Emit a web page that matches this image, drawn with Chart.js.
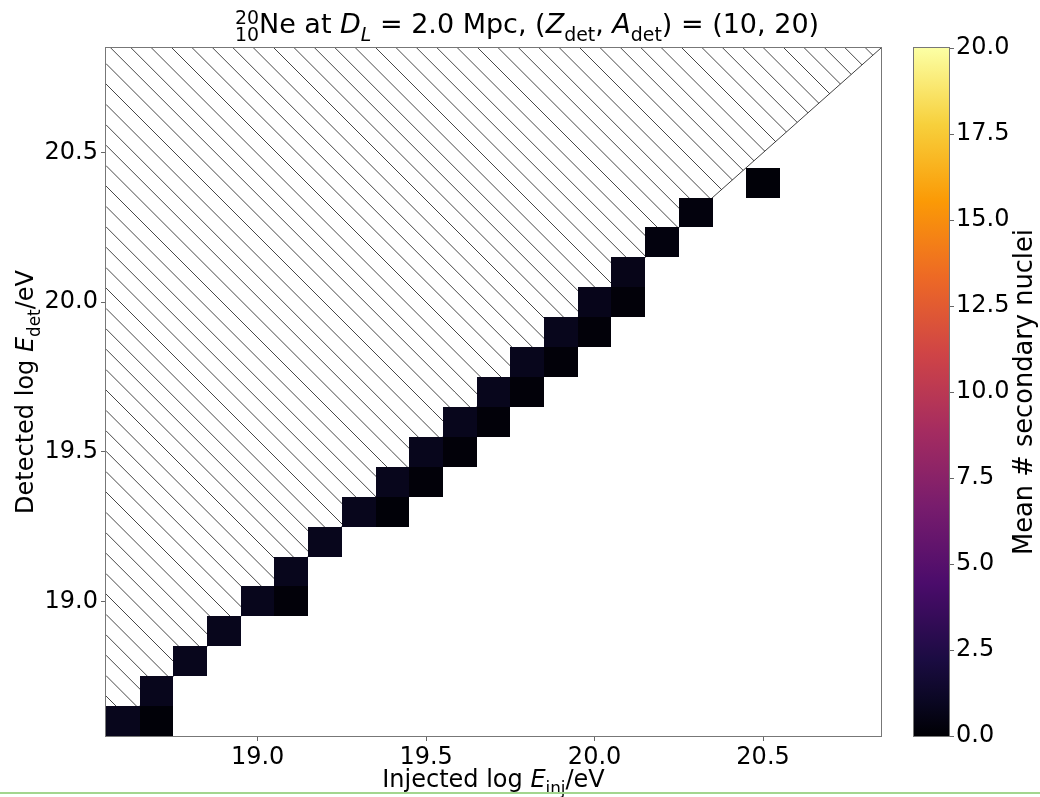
<!DOCTYPE html>
<html><head><meta charset="utf-8">
<script src="https://cdn.jsdelivr.net/npm/chart.js@4.4.1/dist/chart.umd.min.js"></script>
<style>
html,body{margin:0;padding:0;background:#fff;}
#wrap{position:relative;width:1040px;height:797px;overflow:hidden;background:#fff;}
#wrap canvas{position:absolute;left:0;top:0;}
#gl{position:absolute;left:0;top:792px;width:1040px;height:2px;background:#a3d68f;}
</style></head><body>
<div id="wrap">
<canvas id="main" width="1040" height="797" style="width:1040px;height:797px"></canvas>
<canvas id="cbar" width="1040" height="797" style="width:1040px;height:797px"></canvas>
<div id="gl"></div>
</div>
<script>
// ---- data ----
const binCenters = [18.6,18.7,18.8,18.9,19.0,19.1,19.2,19.3,19.4,19.5,19.6,19.7,19.8,19.9,20.0,20.1,20.2,20.3,20.4,20.5,20.6,20.7,20.8];
const injectedLogE = [18.6,18.7,18.8,18.9,19.0,19.1,19.2,19.3,19.4,19.5,19.6,19.7,19.8,19.9,20.0,20.1,20.2,20.3,
                      18.7,19.1,19.4,19.5,19.6,19.7,19.8,19.9,20.0,20.1,20.5];
const detectedLogE = [18.6,18.7,18.8,18.9,19.0,19.1,19.2,19.3,19.4,19.5,19.6,19.7,19.8,19.9,20.0,20.1,20.2,20.3,
                      18.6,19.0,19.3,19.4,19.5,19.6,19.7,19.8,19.9,20.0,20.4];
const meanSecondaries = [0.8,0.8,0.8,0.8,0.8,0.8,0.8,0.8,0.8,0.8,0.8,0.8,0.8,0.8,0.75,0.65,0.35,0.3,
                         0.12,0.15,0.12,0.15,0.15,0.15,0.15,0.15,0.15,0.15,0.12];
const xTickValues = [19.0,19.5,20.0,20.5];
const yTickValues = [19.0,19.5,20.0,20.5];
const colorbarTicks = [0,2.5,5,7.5,10,12.5,15,17.5,20];
const colorMin = 0, colorMax = 20;

// inferno colormap anchors
const infernoStops = [[0,'#000004'],[0.05,'#0a0722'],[1/9,'#1b0c42'],[2/9,'#4b0c6b'],[3/9,'#781c6d'],[4/9,'#a52c60'],[5/9,'#cf4446'],[6/9,'#ed6925'],[7/9,'#fb9a06'],[8/9,'#f7d03c'],[1,'#fcffa4']];
function hex2rgb(h){return [parseInt(h.substr(1,2),16),parseInt(h.substr(3,2),16),parseInt(h.substr(5,2),16)];}
function inferno(t){
  t=Math.max(0,Math.min(1,t));
  for(let i=1;i<infernoStops.length;i++){
    const [t1,c1]=infernoStops[i], [t0,c0]=infernoStops[i-1];
    if(t<=t1){const f=(t-t0)/(t1-t0);const a=hex2rgb(c0),b=hex2rgb(c1);
      return 'rgb('+a.map((v,k)=>Math.round(v+(b[k]-v)*f)).join(',')+')';}
  }
  return infernoStops[infernoStops.length-1][1];
}

Chart.defaults.font.family = "'DejaVu Sans', sans-serif";
Chart.defaults.color = '#000';
const FONT = '"DejaVu Sans"';

function fontFor(s,size){const sz=(s.sub||s.sup)?size*0.7:size;return (s.it?'italic ':'')+sz+'px '+FONT;}
function richWidth(ctx,segs,size){let w=0;for(const s of segs){ctx.font=fontFor(s,size);if(!s.stack)w+=ctx.measureText(s.t).width;}return w;}
function drawRich(ctx,segs,x,y,size){
  ctx.textAlign='left';
  for(const s of segs){ctx.font=fontFor(s,size);
    const dy=s.sub?size*0.3:(s.sup?-size*0.33:0);
    ctx.fillText(s.t,x,y+dy);
    if(!s.stack)x+=ctx.measureText(s.t).width;}
}
function drawRichCentered(ctx,segs,cx,y,size){const w=richWidth(ctx,segs,size);drawRich(ctx,segs,cx-w/2,y,size);}

const titleSegs=[{t:'20',sup:true,stack:true},{t:'10',sub:true},{t:'Ne at '},{t:'D',it:true},{t:'L',it:true,sub:true},
  {t:' = 2.0 Mpc, ('},{t:'Z',it:true},{t:'det',sub:true},{t:', '},{t:'A',it:true},{t:'det',sub:true},{t:') = (10, 20)'}];
const xLabelSegs=[{t:'Injected log '},{t:'E',it:true},{t:'inj',sub:true},{t:'/eV'}];
const yLabelSegs=[{t:'Detected log '},{t:'E',it:true},{t:'det',sub:true},{t:'/eV'}];

const halfBin=(binCenters[1]-binCenters[0])/2;
const lo=binCenters[0]-halfBin, hi=binCenters[binCenters.length-1]+halfBin;

const heatPlugin={
  id:'heat',
  beforeDatasetsDraw(chart){
    const {ctx,chartArea:a,scales:{x,y}}=chart;
    // hatched region (detected > injected)
    ctx.save();
    ctx.beginPath();
    ctx.moveTo(x.getPixelForValue(lo),y.getPixelForValue(lo));
    ctx.lineTo(x.getPixelForValue(hi),y.getPixelForValue(hi));
    ctx.lineTo(x.getPixelForValue(lo),y.getPixelForValue(hi));
    ctx.closePath();
    ctx.clip();
    ctx.strokeStyle='rgba(0,0,0,0.72)';ctx.lineWidth=1;
    ctx.beginPath();
    const sp=20.4, c0=-42.4;
    for(let k=-80;k<=80;k++){const c=c0+k*sp;
      if(c<a.top-a.right-2||c>a.bottom-a.left+2)continue;
      ctx.moveTo(a.left,a.left+c);ctx.lineTo(a.right,a.right+c);}
    ctx.stroke();
    ctx.restore();
    ctx.save();
    ctx.strokeStyle='rgba(0,0,0,0.75)';ctx.lineWidth=1;
    ctx.beginPath();
    ctx.moveTo(x.getPixelForValue(lo),y.getPixelForValue(lo));
    ctx.lineTo(x.getPixelForValue(hi),y.getPixelForValue(hi));
    ctx.stroke();
    ctx.restore();
    // cells
    const ds=chart.data.datasets[0].data;
    ctx.save();
    for(const p of ds){
      const x0=Math.round(x.getPixelForValue(p.x-halfBin)),x1=Math.round(x.getPixelForValue(p.x+halfBin));
      const y0=Math.round(y.getPixelForValue(p.y+halfBin)),y1=Math.round(y.getPixelForValue(p.y-halfBin));
      ctx.fillStyle=inferno((p.v-colorMin)/(colorMax-colorMin));
      ctx.fillRect(x0,y0,x1-x0,y1-y0);
    }
    ctx.restore();
  },
  afterDraw(chart){
    const {ctx,chartArea:a}=chart;
    ctx.save();
    ctx.strokeStyle='#777';ctx.lineWidth=1;
    ctx.strokeRect(Math.round(a.left)-0.5,Math.round(a.top)-0.5,Math.round(a.right-a.left)+1,Math.round(a.bottom-a.top)+1);
    ctx.fillStyle='#000';ctx.textBaseline='alphabetic';
    drawRichCentered(ctx,titleSegs,527,33,27);
    drawRichCentered(ctx,xLabelSegs,(a.left+a.right)/2,787,24);
    ctx.translate(33,(a.top+a.bottom)/2);ctx.rotate(-Math.PI/2);
    drawRichCentered(ctx,yLabelSegs,0,0,24);
    ctx.restore();
  }
};

const tickFont={size:24,family:"'DejaVu Sans'"};
new Chart(document.getElementById('main'),{
  type:'scatter',
  data:{datasets:[{data:injectedLogE.map((v,i)=>({x:v,y:detectedLogE[i],v:meanSecondaries[i]})),pointRadius:0,pointHoverRadius:0}]},
  options:{
    responsive:false,animation:false,events:[],devicePixelRatio:1,
    layout:{padding:{left:0,top:48,right:159,bottom:0}},
    plugins:{legend:{display:false},tooltip:{enabled:false},title:{display:false}},
    scales:{
      x:{type:'linear',min:lo,max:hi,
        afterBuildTicks:s=>{s.ticks=xTickValues.map(v=>({value:v}));},
        afterFit:s=>{s.height=61;},
        ticks:{font:tickFont,color:'#000',padding:2,maxRotation:0,autoSkip:false,callback:v=>Number(v).toFixed(1)},
        grid:{drawOnChartArea:false,drawTicks:true,tickLength:5,color:'#666'},
        border:{display:false}},
      y:{type:'linear',min:lo,max:hi,
        afterBuildTicks:s=>{s.ticks=yTickValues.map(v=>({value:v}));},
        afterFit:s=>{s.width=106;},
        ticks:{font:tickFont,color:'#000',padding:3,autoSkip:false,callback:v=>Number(v).toFixed(1)},
        grid:{drawOnChartArea:false,drawTicks:true,tickLength:5,color:'#666'},
        border:{display:false}}
    }
  },
  plugins:[heatPlugin]
});

const cbPlugin={
  id:'cb',
  beforeDraw(chart){
    const {ctx,chartArea:a,scales:{y}}=chart;
    const g=ctx.createLinearGradient(0,y.getPixelForValue(colorMin),0,y.getPixelForValue(colorMax));
    for(const [t,c] of infernoStops)g.addColorStop(t,c);
    ctx.save();ctx.fillStyle=g;ctx.fillRect(a.left,a.top,a.right-a.left,a.bottom-a.top);ctx.restore();
  },
  afterDraw(chart){
    const {ctx,chartArea:a}=chart;
    ctx.save();ctx.strokeStyle='#777';ctx.lineWidth=1;
    ctx.strokeRect(Math.round(a.left)-0.5,Math.round(a.top)-0.5,Math.round(a.right-a.left)+1,Math.round(a.bottom-a.top)+1);
    ctx.fillStyle='#000';ctx.textBaseline='alphabetic';ctx.textAlign='center';
    ctx.font='25.7px '+FONT;
    ctx.translate(1032,(a.top+a.bottom)/2);ctx.rotate(-Math.PI/2);
    ctx.fillText('Mean # secondary nuclei',0,0);
    ctx.restore();
  }
};
new Chart(document.getElementById('cbar'),{
  type:'scatter',
  data:{datasets:[]},
  options:{
    responsive:false,animation:false,events:[],devicePixelRatio:1,
    layout:{padding:{left:914,top:48,right:0,bottom:61}},
    plugins:{legend:{display:false},tooltip:{enabled:false}},
    scales:{
      x:{display:false,min:0,max:1},
      y:{position:'right',min:colorMin,max:colorMax,
        afterBuildTicks:s=>{s.ticks=colorbarTicks.map(v=>({value:v}));},
        afterFit:s=>{s.width=91;},
        ticks:{font:tickFont,color:'#000',padding:2,autoSkip:false,callback:v=>Number(v).toFixed(1)},
        grid:{drawOnChartArea:false,drawTicks:true,tickLength:5,color:'#666'},
        border:{display:false}}
    }
  },
  plugins:[cbPlugin]
});
</script>
</body></html>
